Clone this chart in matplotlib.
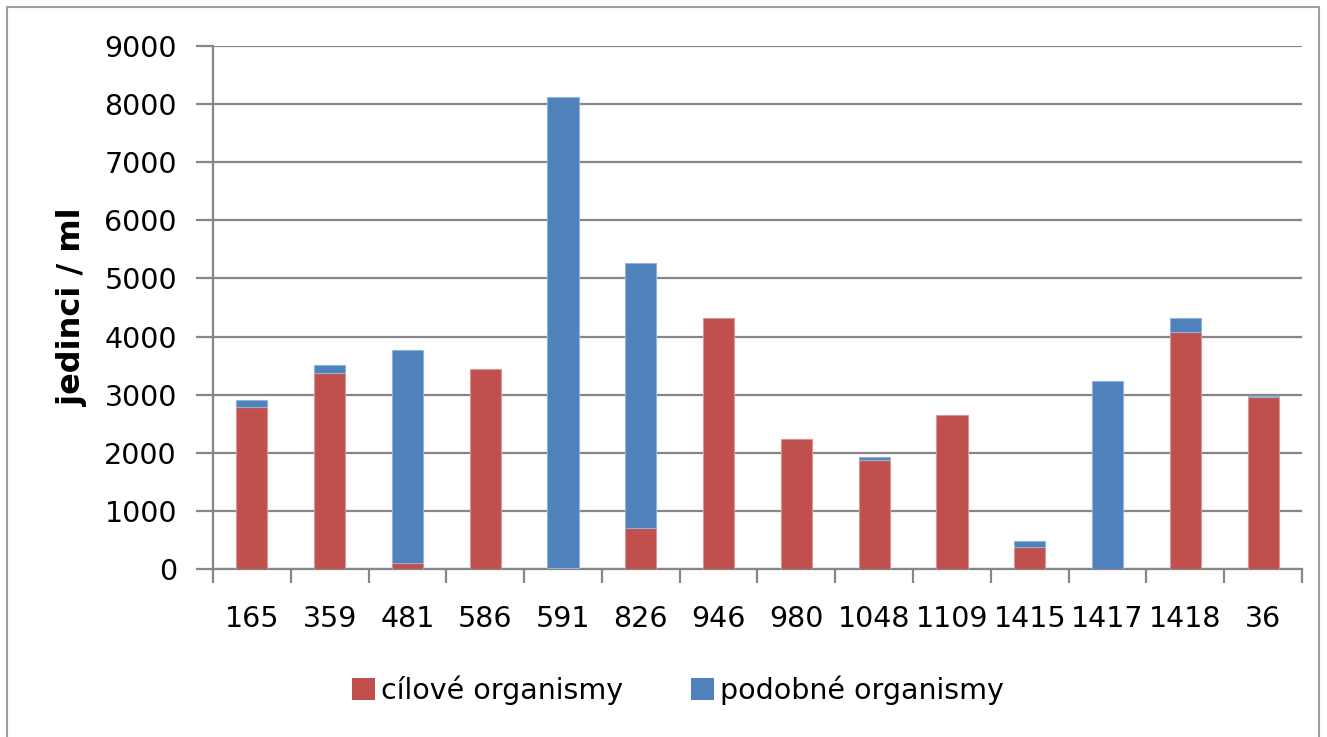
import numpy as np
import matplotlib.pyplot as plt
from matplotlib.patches import Rectangle, Patch

vzorky = ['165', '359', '481', '586', '591', '826', '946', '980', '1048', '1109',
          '1415', '1417', '1418', '36']
cilove = [2780, 3375, 110, 3450, 10, 700, 4320, 2240, 1876, 2650, 384, 0, 4085, 2966]
podobne = [130, 130, 3665, 0, 8108, 4567, 0, 0, 46, 0, 92, 3230, 229, 10]

red = '#c0504d'
blue = '#4f81bd'
grid_col = '#868686'

plt.rcParams['font.family'] = ['DejaVu Sans']

fig = plt.figure(figsize=(13.27, 7.37), dpi=100)
ax = fig.add_axes([213 / 1327, 1 - 569 / 737, (1302 - 213) / 1327, (569 - 46) / 737])

x = np.arange(len(vzorky))
w = 0.40
ax.bar(x, cilove, w, color=red, edgecolor='#d99694',
       linewidth=[0.8 if v > 0 else 0 for v in cilove], zorder=3)
ax.bar(x, podobne, w, bottom=cilove, color=blue, edgecolor='#95b3d7',
       linewidth=[0.8 if v > 0 else 0 for v in podobne], zorder=3)

ax.set_xlim(-0.5, len(vzorky) - 0.5)
ax.set_ylim(0, 9000)
ax.set_yticks(np.arange(0, 9001, 1000))
ax.yaxis.grid(True, color=grid_col, linewidth=1.6, zorder=0)
ax.set_axisbelow(True)

# category ticks sit between the bars
ax.set_xticks(np.arange(-0.5, len(vzorky), 1.0))
ax.set_xticklabels([])
ax.set_xticks(x, minor=True)
ax.set_xticklabels(vzorky, minor=True, fontsize=20.5)
ax.tick_params(axis='x', which='minor', length=0, pad=26)
ax.tick_params(axis='x', which='major', length=10, width=1.6, color=grid_col)
ax.tick_params(axis='y', length=12, width=1.6, color=grid_col, labelsize=20.5, pad=14)

for s in ['top', 'right']:
    ax.spines[s].set_visible(False)
for s in ['left', 'bottom']:
    ax.spines[s].set_color(grid_col)
    ax.spines[s].set_linewidth(1.6)

ax.set_ylabel('jedinci / ml', fontsize=23, fontweight='bold', labelpad=12)

handles = [Patch(facecolor=red), Patch(facecolor=blue)]
fig.legend(handles, ['cílové organismy', 'podobné organismy'], loc='center',
           bbox_to_anchor=(0.511, 1 - 690 / 737), ncol=2, frameon=False,
           fontsize=20.5, handlelength=0.8, handleheight=0.8, handletextpad=0.2,
           columnspacing=2.4)

fig.patches.append(Rectangle((7 / 1327, -0.01), 1312 / 1327, 1 - 7 / 737 + 0.01,
                             transform=fig.transFigure, fill=False,
                             edgecolor='#a0a0a0', linewidth=1.5))

fig.savefig('out.png', dpi=100)
